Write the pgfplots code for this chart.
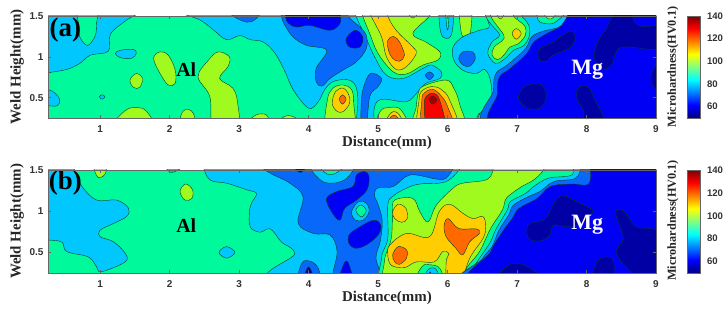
\documentclass[border=0pt]{standalone}
\usepackage{fontspec}
\setmainfont{Liberation Serif}
\setsansfont{Liberation Sans}
\usepackage{pgfplots}
\pgfplotsset{compat=1.18}
\definecolor{cN}{RGB}{0,0,165}
\definecolor{cB}{RGB}{0,0,245}
\definecolor{cM}{RGB}{8,104,250}
\definecolor{cC}{RGB}{0,200,255}
\definecolor{cS}{RGB}{0,250,155}
\definecolor{cL}{RGB}{160,250,30}
\definecolor{cG}{RGB}{255,205,0}
\definecolor{cO}{RGB}{255,105,0}
\definecolor{cR}{RGB}{250,0,0}
\definecolor{cD}{RGB}{160,0,0}
\definecolor{txt}{RGB}{50,50,50}
\pgfplotsset{
 r/.style={smooth cycle,tension=0.6,draw=black!75!cS,line width=0.4pt,fill=#1,mark=none},
 panel/.style={
  scale only axis,width=608bp,anchor=south west,
  xmin=0.25,xmax=9,ymin=0.25,ymax=1.5,
  xtick={1,...,9},ytick={0.5,1,1.5},yticklabels={0.5,1,1.5},
  axis on top,axis line style={draw=black!60,line width=0.5pt},
  axis background/.style={fill=cS},
  tick style={draw=black!60,line width=0.4pt},
  major tick length=3bp,
  tick align=inside,
  /pgf/number format/assume math mode=true,
  ticklabel style={font=\sffamily\bfseries\fontsize{10}{10}\selectfont,text=txt},
  xticklabel style={yshift=-4.5bp},
  yticklabel style={xshift=-1bp},
  every axis x label/.style={at={(rel axis cs:0.5576,0)},anchor=center,yshift=-25bp},
  every axis y label/.style={at={(rel axis cs:0,0.5)},anchor=center,rotate=90,yshift=31bp},
  label style={font=\rmfamily\bfseries\fontsize{15}{15}\selectfont,text=black!85},
  xlabel={Distance(mm)},ylabel={Weld Height(mm)},
  colorbar,colormap/jet,point meta min=50,point meta max=140,
  colorbar style={at={(1.051,1)},anchor=north west,width=13.5bp,
    ytick={60,80,100,120,140},
    yticklabel pos=right,
    /pgf/number format/assume math mode=true,
    major tick length=0pt,tick style={draw=none},
    axis line style={draw=black!60,line width=0.3pt},
    yticklabel style={font=\sffamily\bfseries\fontsize{9.6}{9.6}\selectfont,text=txt,xshift=3bp}},
 }
}
\begin{document}
\begin{tikzpicture}
\path[use as bounding box] (0,0) rectangle (726bp,311bp);
% ---------------- panel (a)
\begin{axis}[panel,height=102bp,at={(48bp,193bp)}]
\addplot[r=cC] coordinates {(.25,.805)(.52,.845)(.71,.92)(.86,1.02)(1.12,1.07)(1.15,1.28)(1.38,1.45)(1.55,1.56)(1.2,1.7)(.1,1.7)(0,1.2)(.05,.78)};
\addplot[r=cS] coordinates {(.68,1.6)(.69,1.4)(.71,1.24)(.82,1.14)(.93,1.26)(.95,1.42)(.96,1.6)};
\addplot[r=cC] coordinates {(2.1,1.7)(2.15,1.55)(2.44,1.45)(2.63,1.33)(2.82,1.21)(3.01,1.26)(3.16,1.21)(3.35,1.18)(3.52,1.04)(3.66,.82)(3.78,.595)(4.0,.37)(4.14,.45)(4.23,.595)(4.35,.695)(4.55,.72)(4.67,.655)(4.71,.47)(4.70,.1)(4.92,.1)(4.95,.39)(5.07,.48)(5.41,.45)(5.57,.57)(5.69,.675)(5.89,.735)(5.91,.815)(5.77,.9)(5.65,.86)(5.36,.735)(5.12,.775)(4.95,1.0)(4.81,1.265)(4.68,1.5)(4.6,1.7)};
\addplot[r=cM] coordinates {(3.6,1.7)(3.61,1.5)(3.66,1.385)(3.78,1.24)(3.97,1.14)(4.26,1.08)(4.11,.86)(4.11,.695)(4.19,.64)(4.31,.735)(4.5,.84)(4.69,.94)(4.83,1.10)(4.83,1.265)(4.74,1.365)(4.57,1.5)(4.5,1.7)};
\addplot[r=cB] coordinates {(3.67,1.7)(3.67,1.5)(3.71,1.41)(3.83,1.365)(4.02,1.385)(4.31,1.325)(4.45,1.405)(4.46,1.5)(4.45,1.7)};
\addplot[r=cB] coordinates {(4.54,1.22)(4.67,1.325)(4.78,1.245)(4.74,1.12)(4.59,1.12)};
\addplot[r=cM] coordinates {(2.88,1.55)(2.95,1.48)(3.11,1.425)(3.22,1.45)(3.3,1.55)(3.1,1.65)};
\addplot[r=cM] coordinates {(4.76,.1)(4.76,.47)(4.81,.675)(4.90,.8)(5.05,.735)(5.0,.635)(4.88,.51)(4.83,.1)};
% peak near x=4.5
\addplot[r=cL] coordinates {(4.26,.1)(4.27,.47)(4.35,.615)(4.5,.655)(4.62,.595)(4.65,.43)(4.64,.1)};
\addplot[r=cG] coordinates {(4.34,.43)(4.39,.575)(4.5,.615)(4.58,.53)(4.59,.43)(4.5,.33)(4.41,.33)};
\addplot[r=cO] coordinates {(4.44,.48)(4.49,.535)(4.54,.48)(4.49,.42)};
% bottom peak near x=5.2
\addplot[r=cL] coordinates {(4.98,.1)(5.03,.33)(5.17,.38)(5.33,.35)(5.43,.1)};
\addplot[r=cG] coordinates {(5.07,.1)(5.19,.315)(5.31,.285)(5.37,.1)};
\addplot[r=cO] coordinates {(5.14,.2)(5.23,.285)(5.31,.2)(5.23,.1)};
% red peak
\addplot[r=cL] coordinates {(5.53,.1)(5.55,.39)(5.58,.555)(5.65,.64)(5.98,.715)(6.09,.615)(6.17,.43)(6.22,.1)};
\addplot[r=cG] coordinates {(5.6,.1)(5.59,.47)(5.63,.58)(5.77,.635)(5.91,.6)(6.03,.47)(6.14,.1)};
\addplot[r=cO] coordinates {(5.65,.1)(5.63,.47)(5.67,.56)(5.79,.6)(5.91,.52)(6.0,.39)(6.08,.1)};
\addplot[r=cR] coordinates {(5.71,.1)(5.67,.43)(5.7,.52)(5.8,.555)(5.89,.46)(5.97,.1)};
\addplot[r=cD] coordinates {(5.73,.48)(5.79,.52)(5.85,.47)(5.79,.42)};
\addplot[r=cL] coordinates {(6.41,.2)(6.46,.31)(6.52,.2)(6.46,.15)};
% upper peak
\addplot[r=cL] coordinates {(4.75,1.65)(4.78,1.5)(4.88,1.285)(5.0,1.04)(5.22,.815)(5.41,.79)(5.65,.9)(5.86,.96)(5.89,1.06)(5.69,1.18)(5.5,1.285)(5.74,1.5)(5.8,1.65)};
\addplot[r=cG] coordinates {(4.88,1.6)(4.90,1.5)(5.05,1.245)(5.12,1.0)(5.26,.845)(5.41,.88)(5.55,1.04)(5.5,1.12)(5.26,1.325)(5.14,1.5)(5.14,1.6)};
\addplot[r=cO] coordinates {(5.14,1.2)(5.22,1.25)(5.31,1.18)(5.38,1.02)(5.31,.945)(5.21,.98)(5.15,1.08)};
\addplot[r=cG] coordinates {(5.43,1.55)(5.5,1.475)(5.58,1.55)(5.5,1.6)};
\addplot[r=cM] coordinates {(5.68,.775)(5.74,.815)(5.8,.775)(5.74,.72)};
\addplot[r=cC] coordinates {(5.89,1.6)(5.9,1.305)(5.98,1.225)(6.06,1.285)(6.08,1.6)};
\addplot[r=cS] coordinates {(5.97,1.6)(5.99,1.36)(6.01,1.36)(6.02,1.6)};
\addplot[r=cL] coordinates {(6.18,1.6)(6.2,1.285)(6.27,1.245)(6.33,1.305)(6.34,1.6)};
% right side
\addplot[r=cC] coordinates {(6.63,.1)(6.64,.51)(6.61,.735)(6.53,.845)(6.41,.795)(6.22,.835)(6.09,.96)(6.08,1.12)(6.22,1.245)(6.46,1.325)(6.6,1.365)(6.56,1.5)(6.56,1.7)(9.5,1.7)(9.5,.1)};
\addplot[r=cM] coordinates {(6.16,.98)(6.22,1.06)(6.36,1.06)(6.4,.98)(6.32,.885)(6.22,.9)};
\addplot[r=cS] coordinates {(6.55,1.65)(6.55,1.5)(6.64,1.385)(6.75,1.265)(6.64,1.18)(6.58,1.04)(6.69,.92)(6.83,.98)(6.95,1.08)(7.1,1.14)(7.18,1.265)(7.17,1.385)(7.1,1.47)(7.07,1.5)(7.05,1.65)};
\addplot[r=cL] coordinates {(6.62,1.6)(6.62,1.5)(6.69,1.405)(6.81,1.265)(6.79,1.2)(6.67,1.12)(6.64,1.02)(6.72,.965)(6.81,1.02)(6.9,1.12)(7.02,1.16)(7.12,1.265)(7.12,1.365)(7.05,1.425)(6.95,1.5)(6.95,1.6)};
\addplot[r=cG] coordinates {(6.7,1.55)(6.76,1.465)(6.83,1.55)(6.76,1.62)};
\addplot[r=cG] coordinates {(6.93,1.285)(6.99,1.345)(7.06,1.285)(6.99,1.215)};
\addplot[r=cS] coordinates {(7.27,1.6)(7.29,1.5)(7.33,1.425)(7.5,1.405)(7.62,1.47)(7.66,1.5)(7.68,1.6)};
\addplot[r=cL] coordinates {(7.38,1.55)(7.45,1.465)(7.52,1.48)(7.56,1.55)};
\addplot[r=cM] coordinates {(7.75,1.53)(7.68,1.43)(7.6,1.36)(7.38,1.315)(7.21,1.245)(7.12,1.1)(6.86,.9)(6.7,.8)(6.66,.595)(6.69,.1)(9.5,.1)(9.5,1.7)(7.8,1.7)};
\addplot[r=cB] coordinates {(7.76,1.57)(7.64,1.385)(7.43,1.285)(7.24,1.18)(7.14,1.04)(6.9,.855)(6.75,.755)(6.72,.555)(6.8,.1)(9.5,.1)(9.5,1.7)(7.8,1.7)};
\addplot[r=cN] coordinates {(7.31,.98)(7.33,1.1)(7.52,1.18)(7.69,1.285)(7.81,1.305)(7.83,1.2)(7.74,1.1)(7.52,1.02)(7.41,.94)};
\addplot[r=cN] coordinates {(7.02,.51)(7.12,.64)(7.33,.665)(7.42,.555)(7.38,.41)(7.24,.35)(7.1,.4)};
\addplot[r=cN] coordinates {(7.85,.555)(7.91,.635)(8.03,.625)(8.12,.47)(8.24,.27)(8.26,.1)(8,.1)(7.95,.35)(7.88,.45)};
\addplot[r=cN] coordinates {(8.43,1.57)(8.62,1.57)(8.69,1.43)(8.81,1.37)(9.1,1.365)(9.1,1.1)(8.53,1.12)(8.41,1.02)(8.36,.9)(8.24,.84)(8.14,.92)(8.11,1.04)(8.17,1.2)(8.27,1.325)};
\addplot[r=cN] coordinates {(9.03,.92)(8.93,.775)(8.96,.635)(9.05,.595)(9.1,.75)};
\addplot[r=cN] coordinates {(7.97,1.52)(8.02,1.485)(8.07,1.52)};
% left side details
\addplot[r=cL] coordinates {(1.77,.98)(1.86,1.06)(1.98,1.02)(2.08,.84)(2.08,.675)(1.98,.655)(1.86,.8)};
\addplot[r=cL] coordinates {(1.43,.715)(1.52,.795)(1.61,.735)(1.57,.625)(1.48,.625)};
\addplot[r=cL] coordinates {(2.41,.755)(2.56,.96)(2.7,1.06)(2.86,1)(2.84,.88)(2.72,.735)(2.91,.615)(2.98,.43)(2.98,.1)(2.63,.1)(2.58,.51)};
\addplot[r=cL] coordinates {(1.19,.15)(1.36,.34)(1.53,.38)(1.67,.33)(1.77,.15)(1.5,.1)};
\addplot[r=cL] coordinates {(2.15,.2)(2.19,.33)(2.27,.355)(2.34,.31)(2.36,.2)(2.25,.1)};
\addplot[r=cL] coordinates {(3.15,.2)(3.25,.29)(3.39,.29)(3.42,.2)(3.3,.12)};
\addplot[r=cL] coordinates {(3.59,.22)(3.71,.28)(3.85,.22)(3.7,.12)};
\addplot[r=cC] coordinates {(1.22,1.04)(1.29,1.08)(1.48,1.09)(1.52,1.04)(1.45,.98)(1.29,.99)};
\addplot[r=cC] coordinates {(.25,.6)(.35,.555)(.42,.47)(.38,.4)(.25,.4)(.1,.4)(.1,.6)};
\addplot[r=cC] coordinates {(.99,.51)(1.03,.535)(1.07,.51)(1.03,.48)};
\node[font=\rmfamily\bfseries\fontsize{20}{20}\selectfont] at (axis cs:2.24,.84) {Al};
\node[font=\rmfamily\bfseries\fontsize{22}{22}\selectfont,text=white] at (axis cs:8.01,.84) {Mg};
\node[font=\rmfamily\bfseries\fontsize{27}{27}\selectfont] at (axis cs:.5,1.33) {(a)};
\end{axis}
% ---------------- panel (b)
\begin{axis}[panel,height=103bp,at={(48bp,38bp)}]
\addplot[r=cC] coordinates {(.63,1.5)(.74,1.3)(.95,1.135)(1.24,1.135)(1.41,1.035)(1.38,.935)(1.19,.85)(1,.77)(1,.69)(1.19,.63)(1.36,.49)(1.36,.385)(1.02,.265)(.95,.325)(.83,.445)(.52,.51)(.45,.625)(.25,.65)(.1,.65)(.1,1.7)(.6,1.7)};
\addplot[r=cL] coordinates {(.9,1.6)(.95,1.43)(1,1.41)(1.07,1.45)(1.1,1.6)};
\addplot[r=cL] coordinates {(2.15,1.24)(2.23,1.33)(2.33,1.26)(2.32,1.155)(2.22,1.135)};
\addplot[r=cC] coordinates {(2.71,.5)(2.82,.57)(2.94,.5)(2.82,.43)};
\addplot[r=cC] coordinates {(1.96,1.53)(2.03,1.47)(2.17,1.53)};
\addplot[r=cC] coordinates {(2.48,1.56)(2.58,1.38)(2.82,1.34)(3.11,1.26)(3.25,1.215)(3.18,1.1)(3.15,.995)(3.16,.81)(3.3,.745)(3.45,.785)(3.61,.625)(3.8,.49)(3.8,.1)(9.5,.1)(9.5,1.7)(2.5,1.7)};
\addplot[r=cM] coordinates {(3.3,1.56)(3.45,1.46)(3.73,1.34)(3.92,1.175)(3.85,.855)(4.07,.73)(4.31,.71)(4.41,.51)(4.38,.1)(5.03,.1)(4.97,.43)(5.03,.63)(5.06,.89)(4.99,1.105)(4.95,1.18)(4.99,1.28)(5.22,1.3)(5.46,1.44)(5.84,1.39)(5.98,1.4)(6.1,1.56)(6.1,1.7)(3.3,1.7)};
\addplot[r=cC] coordinates {(4.05,1.56)(4.17,1.38)(4.35,1.34)(4.55,1.4)(4.62,1.56)};
\addplot[r=cS] coordinates {(4.16,1.56)(4.27,1.45)(4.39,1.46)(4.5,1.56)};
\addplot[r=cC] coordinates {(4.62,.995)(4.72,1.115)(4.83,1.1)(4.87,.995)(4.79,.895)(4.67,.895)};
\addplot[r=cS] coordinates {(4.68,1.01)(4.75,1.075)(4.83,1.01)(4.76,.93)};
\addplot[r=cB] coordinates {(4.26,1.155)(4.41,1.24)(4.64,1.3)(4.69,1.44)(4.81,1.48)(4.87,1.42)(4.84,1.26)(4.69,1.135)(4.52,1.035)(4.45,.89)(4.33,.995)};
\addplot[r=cB] coordinates {(4.58,.71)(4.69,.785)(4.93,.89)(5.04,.83)(5,.71)(4.83,.59)(4.67,.55)(4.58,.61)};
\addplot[r=cB] coordinates {(4.43,.1)(4.5,.345)(4.57,.375)(4.64,.1)};
\addplot[r=cM] coordinates {(3.85,.1)(3.9,.365)(4.02,.395)(4.14,.305)(4.16,.1)};
\addplot[r=cN] coordinates {(3.92,.1)(4,.325)(4.09,.1)};
\addplot[r=cB] coordinates {(3.78,1.56)(3.88,1.47)(3.97,1.56)};
% central plateau
\addplot[r=cS] coordinates {(5.12,.1)(5.05,.43)(5.14,.67)(5.14,1.075)(5.22,1.185)(5.41,1.28)(5.6,1.33)(5.98,1.36)(6.22,1.56)(6.3,1.7)(7.8,1.7)(7.81,1.5)(7.76,1.43)(7.45,1.4)(7.24,1.3)(7.12,1.215)(6.9,1.115)(6.86,1.015)(6.69,.77)(6.62,.63)(6.46,.43)(6.32,.25)(6.22,.1)};
\addplot[r=cL] coordinates {(5.17,.1)(5.09,.385)(5.19,.67)(5.21,.995)(5.24,1.135)(5.5,1.155)(5.6,.995)(5.72,.87)(5.84,1.075)(6.08,1.28)(6.22,1.34)(6.58,1.39)(6.67,1.56)(6.7,1.65)(7.42,1.65)(7.38,1.5)(7.24,1.38)(7.07,1.3)(6.9,1.2)(6.83,1.135)(6.79,1.015)(6.62,.79)(6.46,.51)(6.27,.305)(6.18,.1)};
\addplot[r=cG] coordinates {(5.17,.59)(5.41,.73)(5.74,.69)(5.88,.995)(6.03,1.085)(6.22,.975)(6.36,.91)(6.51,.935)(6.55,.81)(6.51,.67)(6.32,.43)(6.17,.1)(6,.1)(5.98,.385)(6.02,.485)(5.93,.51)(5.81,.385)(5.55,.385)(5.38,.315)(5.19,.345)(5.14,.47)};
\addplot[r=cG] coordinates {(5.21,.995)(5.29,1.085)(5.4,1.035)(5.42,.91)(5.34,.865)(5.24,.91)};
\addplot[r=cO] coordinates {(5.21,.47)(5.29,.57)(5.41,.53)(5.41,.43)(5.31,.355)(5.24,.385)};
\addplot[r=cO] coordinates {(5.95,.83)(6.01,.91)(6.16,.79)(6.41,.785)(6.46,.73)(6.32,.63)(6.22,.47)(6.12,.55)(5.98,.69)};
\addplot[r=cS] coordinates {(5.53,.1)(5.63,.325)(5.74,.35)(5.89,.305)(5.93,.1)};
\addplot[r=cC] coordinates {(5.63,.1)(5.72,.29)(5.84,.29)(5.88,.1)};
\addplot[r=cB] coordinates {(5.7,.1)(5.75,.265)(5.8,.1)};
% right side
\addplot[r=cM] coordinates {(7.93,1.56)(7.84,1.4)(7.53,1.36)(7.33,1.24)(7.17,1.18)(6.95,1.075)(6.88,.955)(6.74,.77)(6.64,.57)(6.51,.43)(6.34,.1)(9.5,.1)(9.5,1.7)(7.93,1.7)};
\addplot[r=cB] coordinates {(8.06,1.56)(8.03,1.33)(7.79,1.33)(7.48,1.3)(7.29,1.155)(7.03,1.035)(6.93,.91)(6.79,.75)(6.62,.51)(6.46,.1)(9.5,.1)(9.5,1.7)(8.06,1.7)};
\addplot[r=cN] coordinates {(7.14,.77)(7.19,.85)(7.41,.91)(7.53,1.095)(7.65,1.19)(7.86,1.115)(8.09,1.015)(8.05,.955)(7.91,.85)(7.72,.81)(7.53,.83)(7.45,.69)(7.29,.635)(7.17,.67)};
\addplot[r=cN] coordinates {(8.42,.975)(8.5,1.02)(8.6,.935)(8.72,.81)(9.1,.71)(9.1,.1)(8.7,.22)(8.43,.49)(8.53,.67)};
\addplot[r=cN] coordinates {(8.07,.1)(8.15,.385)(8.29,.445)(8.39,.385)(8.36,.1)};
\addplot[r=cN] coordinates {(6.69,.1)(6.9,.355)(7.19,.31)(7.38,.1)};
\node[font=\rmfamily\bfseries\fontsize{20}{20}\selectfont] at (axis cs:2.24,.83) {Al};
\node[font=\rmfamily\bfseries\fontsize{22}{22}\selectfont,text=white] at (axis cs:8.01,.83) {Mg};
\node[font=\rmfamily\bfseries\fontsize{27}{27}\selectfont] at (axis cs:.5,1.34) {(b)};
\end{axis}
\node[rotate=90,font=\rmfamily\bfseries\fontsize{12.3}{12.3}\selectfont,text=black!85] at (673bp,244bp) {Microhardness(HV0.1)};
\node[rotate=90,font=\rmfamily\bfseries\fontsize{12.3}{12.3}\selectfont,text=black!85] at (673bp,90.5bp) {Microhardness(HV0.1)};
\end{tikzpicture}
\end{document}
